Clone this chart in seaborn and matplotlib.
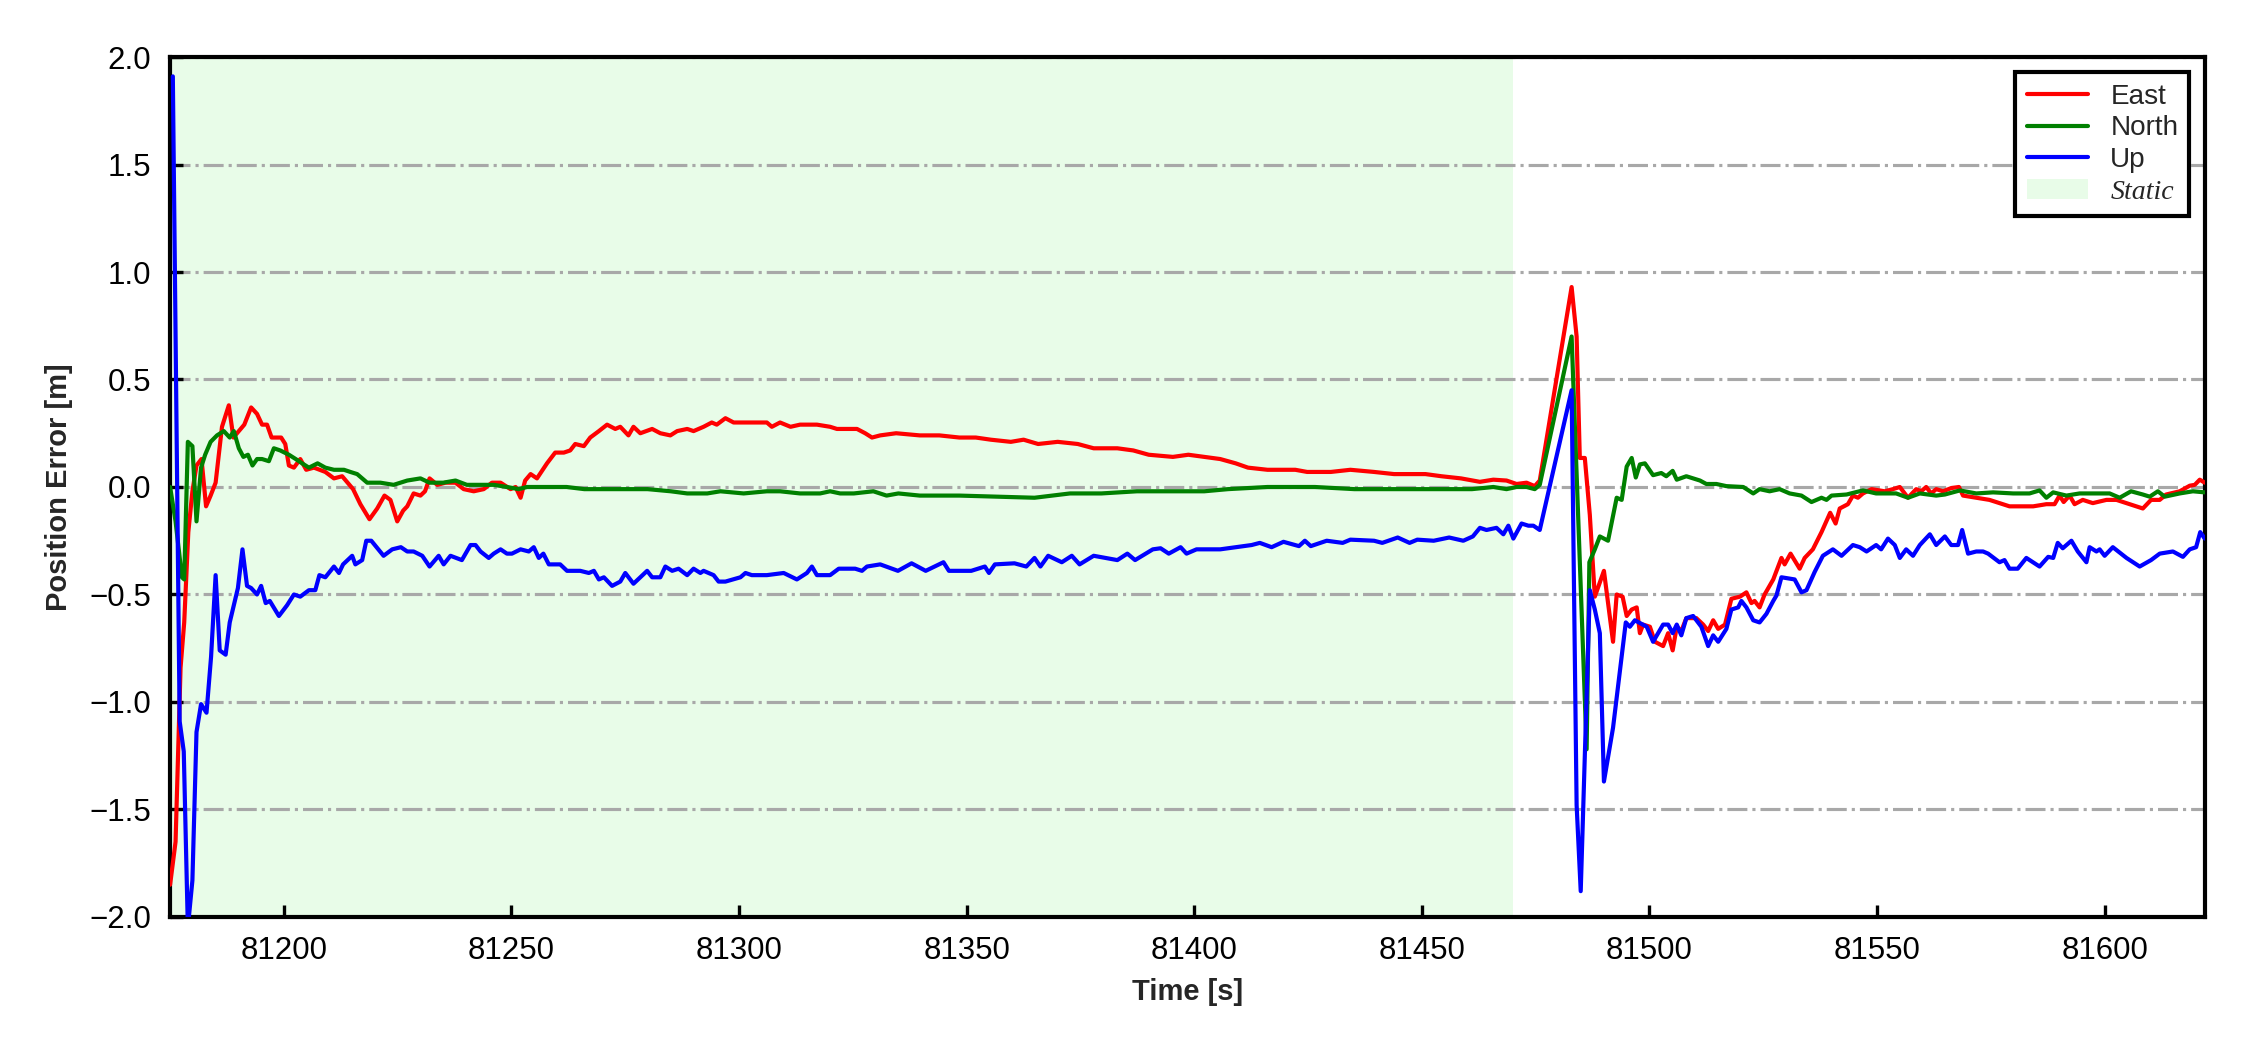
import numpy as np
import pandas as pd
import seaborn as sns
import matplotlib
matplotlib.use("Agg")
import matplotlib.pyplot as plt
from matplotlib.lines import Line2D
from matplotlib.patches import Patch

# ---------------- data ----------------
T0 = 81175.0            # start of the record [s]
T_END = 81622.0         # end of the record [s]
STATIC_END = 81470.0    # end of the static period [s]

# offsets in seconds from T0
east_dt = [0.0, 1.2, 2.3, 3.1, 4.0, 4.9, 5.8, 6.9, 7.9, 8.9, 10.0, 11.4, 12.9, 13.9, 15.1, 16.3, 17.8,
           19.1, 20.2, 21.3, 22.3, 24.4, 25.3, 26.1, 27.2, 28.6, 29.9, 31.6, 34.1, 36.0, 37.8, 40.2,
           41.8, 43.8, 45.5, 47.1, 48.4, 49.9, 51.2, 52.1, 53.5, 55.0, 56.0, 57.0, 58.7, 60.5, 62.7,
           64.5, 66.7, 68.9, 70.7, 72.6, 74.8, 75.9, 77.0, 78.0, 79.2, 80.6, 82.8, 84.6, 86.5, 87.9,
           89.0, 90.9, 92.3, 94.2, 96.0, 97.8, 98.9, 100.7, 101.8, 103.3, 105.9, 107.7, 109.9, 111.4,
           113.6, 115.0, 117.2, 119.0, 120.1, 122.0, 123.8, 127.5, 131.1, 132.2, 134.0, 136.3, 138.4,
           142.1, 145.0, 146.5, 148.7, 150.9, 152.7, 154.2, 156.0, 159.5, 164.7, 169.0, 173.4, 177.0,
           180.3, 184.7, 187.5, 190.7, 195.0, 199.4, 202.9, 208.1, 211.6, 215.0, 220.3, 223.7, 227.2,
           230.7, 234.1, 236.8, 241.1, 247.2, 249.8, 255.0, 259.3, 264.5, 268.9, 272.0, 275.8, 279.3,
           283.6, 287.75, 290.7, 293.6, 295.8, 298.0, 299.8, 300.9, 307.9, 309.0, 309.7, 310.8, 311.9,
           313.0, 315.0, 317.0, 317.8, 319.1, 320.0, 321.1, 322.2, 322.9, 323.6, 325.1, 326.2, 328.0,
           329.1, 330.1, 331.0, 332.0, 333.1, 335.3, 336.8, 337.9, 339.0, 340.1, 341.6, 343.0, 344.9,
           346.3, 347.4, 348.1, 349.2, 350.3, 352.2, 354.0, 354.7, 356.0, 358.0, 359.1, 360.9, 362.8,
           364.7, 365.9, 366.8, 368.6, 369.7, 370.8, 371.9, 373.8, 376.7, 378.5, 380.0, 381.8, 383.6,
           384.7, 385.8, 386.9, 388.0, 389.5, 391.3, 393.0, 393.9, 396.8, 399.7, 401.9, 404.1, 406.3,
           409.3, 412.2, 414.0, 415.1, 416.0, 417.3, 418.4, 420.2, 422.4, 425.4, 427.6, 430.5, 433.4,
           435.2, 437.1, 438.5, 441.5, 443.7, 444.8, 445.9, 447.0]
east_val = [-1.85, -1.65, -0.84, -0.63, -0.21, -0.02, 0.10, 0.13, -0.09, -0.04, 0.02, 0.28, 0.38, 0.23,
            0.26, 0.29, 0.37, 0.34, 0.29, 0.29, 0.23, 0.23, 0.20, 0.10, 0.09, 0.13, 0.08, 0.09, 0.07,
            0.04, 0.05, -0.01, -0.08, -0.15, -0.10, -0.04, -0.06, -0.16, -0.11, -0.09, -0.03, -0.04,
            -0.02, 0.04, 0.01, 0.02, 0.02, -0.01, -0.02, -0.01, 0.02, 0.02, -0.01, 0.00, -0.05, 0.03,
            0.06, 0.04, 0.11, 0.16, 0.16, 0.17, 0.20, 0.19, 0.23, 0.26, 0.29, 0.27, 0.28, 0.24, 0.28,
            0.25, 0.27, 0.25, 0.24, 0.26, 0.27, 0.26, 0.28, 0.30, 0.29, 0.32, 0.30, 0.30, 0.30, 0.28,
            0.30, 0.28, 0.29, 0.29, 0.28, 0.27, 0.27, 0.27, 0.25, 0.23, 0.24, 0.25, 0.24, 0.24, 0.23,
            0.23, 0.22, 0.21, 0.22, 0.20, 0.21, 0.20, 0.18, 0.18, 0.17, 0.15, 0.14, 0.15, 0.14, 0.13,
            0.11, 0.09, 0.08, 0.08, 0.07, 0.07, 0.08, 0.07, 0.06, 0.06, 0.06, 0.05, 0.04, 0.024, 0.034,
            0.03, 0.014, 0.02, 0.004, 0.03, 0.93, 0.70, 0.135, 0.135, -0.13, -0.51, -0.39, -0.72, -0.50,
            -0.51, -0.60, -0.57, -0.56, -0.68, -0.64, -0.65, -0.72, -0.74, -0.68, -0.76, -0.65, -0.67,
            -0.61, -0.61, -0.64, -0.67, -0.62, -0.66, -0.64, -0.52, -0.51, -0.49, -0.54, -0.53, -0.56,
            -0.50, -0.43, -0.33, -0.36, -0.31, -0.38, -0.33, -0.29, -0.21, -0.12, -0.17, -0.10, -0.08,
            -0.04, -0.05, -0.03, -0.01, -0.02, -0.01, 0.00, -0.05, -0.01, -0.02, 0.00, -0.03, -0.01,
            -0.02, -0.005, 0.00, -0.04, -0.05, -0.06, -0.075, -0.09, -0.09, -0.09, -0.08, -0.08, -0.04,
            -0.07, -0.04, -0.08, -0.06, -0.075, -0.06, -0.06, -0.08, -0.10, -0.06, -0.06, -0.035, -0.02,
            0.006, 0.01, 0.034, 0.02]

north_dt = [0.0, 1.2, 2.6, 3.1, 3.9, 4.9, 5.8, 6.8, 7.7, 8.9, 10.3, 11.8, 13.1, 14.0, 15.1, 16.1, 17.1,
            18.1, 19.1, 20.2, 21.7, 22.8, 24.2, 26.1, 27.6, 29.0, 30.5, 32.4, 34.1, 36.0, 38.2, 39.6,
            41.1, 43.3, 46.2, 49.1, 52.1, 55.0, 57.0, 60.0, 62.7, 65.2, 68.2, 71.1, 74.0, 76.6, 78.4,
            82.0, 87.1, 91.0, 93.9, 99.8, 104.9, 110.0, 113.6, 118.0, 120.9, 126.0, 131.1, 134.0, 138.4,
            142.8, 145.0, 147.2, 150.2, 154.5, 157.4, 160.0, 164.7, 173.4, 182.0, 189.9, 197.7, 204.6,
            212.4, 220.3, 227.2, 232.4, 241.1, 248.0, 251.5, 260.2, 268.9, 279.3, 286.0, 290.7, 293.6,
            295.8, 298.0, 299.8, 300.9, 307.9, 311.2, 311.8, 313.0, 314.1, 315.9, 317.8, 318.9, 320.0,
            321.1, 322.0, 322.9, 324.0, 325.8, 327.6, 328.7, 330.1, 331.0, 333.1, 336.1, 337.5, 339.7,
            341.9, 345.6, 347.8, 349.2, 351.4, 353.6, 355.8, 358.4, 360.6, 362.8, 363.9, 365.0, 368.3,
            371.9, 374.8, 379.2, 381.8, 384.4, 388.0, 389.9, 393.2, 396.8, 400.5, 404.9, 408.5, 410.7,
            412.2, 413.7, 416.6, 419.5, 422.4, 426.1, 428.3, 430.8, 433.4, 434.9, 436.7, 438.2, 441.5,
            444.4, 447.0]
north_val = [0.00, -0.16, -0.42, -0.43, 0.21, 0.19, -0.16, 0.09, 0.15, 0.21, 0.24, 0.26, 0.23, 0.26,
             0.18, 0.14, 0.15, 0.10, 0.13, 0.13, 0.12, 0.18, 0.17, 0.15, 0.13, 0.11, 0.09, 0.11, 0.09,
             0.08, 0.08, 0.07, 0.06, 0.02, 0.02, 0.01, 0.03, 0.04, 0.02, 0.02, 0.03, 0.01, 0.01, 0.01,
             0.00, -0.01, 0.00, 0.00, 0.00, -0.01, -0.01, -0.01, -0.01, -0.02, -0.03, -0.03, -0.02,
             -0.03, -0.02, -0.02, -0.03, -0.03, -0.02, -0.03, -0.03, -0.02, -0.04, -0.03, -0.04, -0.04,
             -0.045, -0.05, -0.03, -0.03, -0.02, -0.02, -0.02, -0.01, 0.00, 0.00, 0.00, -0.01, -0.01,
             -0.01, -0.01, 0.00, -0.01, 0.00, 0.00, -0.01, 0.01, 0.70, -1.22, -0.35, -0.29, -0.23,
             -0.25, -0.05, -0.06, 0.095, 0.135, 0.044, 0.105, 0.11, 0.055, 0.065, 0.05, 0.075, 0.034,
             0.05, 0.03, 0.014, 0.014, 0.004, 0.00, -0.03, -0.01, -0.02, -0.01, -0.03, -0.04, -0.07,
             -0.05, -0.06, -0.04, -0.035, -0.016, -0.03, -0.03, -0.05, -0.03, -0.04, -0.035, -0.016,
             -0.03, -0.025, -0.03, -0.03, -0.016, -0.05, -0.025, -0.04, -0.03, -0.03, -0.03, -0.05,
             -0.02, -0.035, -0.045, -0.02, -0.045, -0.03, -0.02, -0.025]

up_dt = [0.6, 2.1, 3.0, 3.9, 4.9, 5.8, 6.8, 8.0, 9.0, 10.0, 10.9, 12.2, 13.1, 14.9, 15.9, 16.9, 17.8,
         19.1, 20.0, 21.0, 21.9, 23.9, 25.7, 27.2, 28.6, 30.5, 31.9, 32.8, 34.1, 36.0, 37.1, 38.0, 40.0,
         40.7, 42.2, 43.1, 44.2, 46.9, 48.8, 50.7, 52.1, 53.5, 55.4, 57.0, 59.0, 60.1, 61.6, 64.1, 66.0,
         67.1, 68.2, 70.0, 71.1, 72.6, 74.0, 75.1, 77.0, 78.8, 79.9, 81.0, 82.0, 83.2, 85.7, 87.2, 90.1,
         92.0, 93.1, 94.2, 95.3, 97.1, 98.9, 100.0, 101.8, 103.3, 104.8, 105.9, 107.7, 108.8, 110.3,
         111.7, 113.6, 115.0, 116.5, 117.2, 119.4, 120.5, 122.0, 125.3, 126.4, 127.8, 131.1, 134.8,
         137.7, 139.9, 141.0, 142.1, 145.0, 146.9, 148.7, 150.5, 152.0, 153.1, 156.0, 159.9, 162.9,
         166.0, 169.9, 171.1, 176.0, 179.0, 179.9, 181.2, 185.5, 188.1, 189.9, 191.2, 192.9, 195.9,
         198.1, 199.8, 202.9, 208.1, 210.3, 212.0, 215.9, 217.6, 219.4, 222.0, 223.3, 225.5, 230.7,
         234.1, 237.6, 239.4, 242.0, 244.6, 248.0, 249.3, 250.6, 254.1, 257.6, 259.3, 264.5, 266.3,
         269.7, 272.3, 274.0, 277.6, 281.0, 284.1, 286.2, 287.75, 289.2, 291.4, 292.9, 294.0, 295.1,
         296.9, 298.4, 299.5, 300.9, 307.9, 309.0, 309.9, 311.9, 313.0, 314.1, 315.0, 317.0, 319.8,
         320.7, 321.8, 324.4, 325.8, 328.0, 329.1, 330.1, 331.0, 332.0, 333.1, 334.6, 336.4, 337.9,
         339.0, 340.1, 341.9, 343.0, 344.5, 345.2, 346.3, 347.8, 349.2, 350.7, 352.2, 352.9, 354.0,
         356.9, 358.4, 359.5, 361.3, 363.1, 365.3, 367.2, 369.7, 371.2, 372.7, 374.8, 375.9, 377.4,
         378.9, 380.0, 381.4, 382.9, 384.4, 386.6, 388.0, 389.9, 391.3, 392.8, 393.7, 395.0, 396.8,
         398.3, 399.4, 401.9, 403.0, 404.1, 405.9, 407.8, 410.7, 412.6, 413.7, 414.7, 415.8, 417.7,
         419.1, 421.0, 421.7, 423.2, 423.9, 425.0, 426.8, 429.8, 432.7, 435.2, 437.1, 440.0, 442.2,
         443.7, 445.1, 446.0, 447.0]
up_val = [1.91, -1.09, -1.23, -2.05, -1.83, -1.14, -1.01, -1.05, -0.79, -0.41, -0.76, -0.78, -0.63,
          -0.47, -0.29, -0.46, -0.47, -0.50, -0.46, -0.54, -0.53, -0.60, -0.55, -0.50, -0.51, -0.48,
          -0.48, -0.41, -0.42, -0.37, -0.40, -0.36, -0.32, -0.36, -0.34, -0.25, -0.25, -0.32, -0.29,
          -0.28, -0.30, -0.30, -0.32, -0.37, -0.32, -0.36, -0.32, -0.34, -0.27, -0.27, -0.30, -0.33,
          -0.31, -0.29, -0.31, -0.31, -0.29, -0.30, -0.28, -0.33, -0.31, -0.36, -0.36, -0.39, -0.39,
          -0.40, -0.39, -0.43, -0.42, -0.46, -0.44, -0.40, -0.45, -0.42, -0.39, -0.42, -0.42, -0.37,
          -0.39, -0.38, -0.41, -0.38, -0.40, -0.39, -0.41, -0.44, -0.44, -0.42, -0.40, -0.41, -0.41,
          -0.40, -0.43, -0.40, -0.37, -0.41, -0.41, -0.38, -0.38, -0.38, -0.39, -0.37, -0.36, -0.39,
          -0.355, -0.39, -0.35, -0.39, -0.39, -0.37, -0.40, -0.36, -0.355, -0.37, -0.33, -0.37, -0.32,
          -0.35, -0.32, -0.36, -0.32, -0.34, -0.31, -0.34, -0.29, -0.285, -0.31, -0.28, -0.31, -0.29,
          -0.29, -0.28, -0.27, -0.26, -0.28, -0.255, -0.275, -0.25, -0.275, -0.25, -0.26, -0.245,
          -0.25, -0.26, -0.235, -0.26, -0.245, -0.25, -0.235, -0.25, -0.23, -0.19, -0.20, -0.19, -0.22,
          -0.18, -0.24, -0.17, -0.18, -0.18, -0.20, 0.45, -1.48, -1.88, -0.48, -0.57, -0.68, -1.37,
          -1.12, -0.63, -0.65, -0.62, -0.65, -0.72, -0.64, -0.64, -0.68, -0.64, -0.69, -0.61, -0.60,
          -0.65, -0.74, -0.69, -0.72, -0.66, -0.57, -0.56, -0.53, -0.56, -0.62, -0.63, -0.59, -0.53,
          -0.505, -0.42, -0.43, -0.49, -0.48, -0.395, -0.32, -0.29, -0.32, -0.27, -0.28, -0.30, -0.27,
          -0.29, -0.24, -0.27, -0.33, -0.29, -0.32, -0.27, -0.22, -0.27, -0.23, -0.27, -0.27, -0.20,
          -0.31, -0.30, -0.30, -0.31, -0.35, -0.34, -0.38, -0.38, -0.33, -0.37, -0.325, -0.33, -0.26,
          -0.285, -0.25, -0.30, -0.35, -0.28, -0.30, -0.29, -0.32, -0.28, -0.33, -0.37, -0.34, -0.31,
          -0.30, -0.325, -0.29, -0.28, -0.21, -0.24]

series_names = ["East", "North", "Up"]
series_colors = ["red", "green", "blue"]
static_label = "Static"
static_color = "#e8fce8"

x_ticks = [81200, 81250, 81300, 81350, 81400, 81450, 81500, 81550, 81600]
y_ticks = [-2.0, -1.5, -1.0, -0.5, 0.0, 0.5, 1.0, 1.5, 2.0]
x_label = "Time [s]"
y_label = "Position Error [m]"

# ---------------- build long table ----------------
frames = []
for name, dts, vals in zip(series_names, [east_dt, north_dt, up_dt], [east_val, north_val, up_val]):
    frames.append(pd.DataFrame({"t": T0 + np.asarray(dts, float),
                                "v": np.asarray(vals, float),
                                "series": name}))
df = pd.concat(frames, ignore_index=True)

# ---------------- plot ----------------
sns.set_theme(style="white")
plt.rcParams["font.family"] = ["Liberation Sans", "DejaVu Sans"]
plt.rcParams["axes.unicode_minus"] = True

fig = plt.figure(figsize=(7.5, 3.5), dpi=300)
ax = fig.add_axes([0.0756, 0.1267, 0.9043, 0.8190])

ax.axvspan(T0, STATIC_END, color=static_color, lw=0, zorder=0)

sns.lineplot(data=df, x="t", y="v", hue="series", hue_order=series_names,
             palette=dict(zip(series_names, series_colors)),
             estimator=None, sort=False, linewidth=1.0, legend=False, ax=ax, zorder=3)

ax.set_xlim(T0, T_END)
ax.set_ylim(-2.0, 2.0)
ax.set_xticks(x_ticks)
ax.set_yticks(y_ticks)
ax.set_yticklabels([f"{v:.1f}".replace("-", "\u2212") for v in y_ticks])

ax.yaxis.grid(True, linestyle="-.", color="#a8a8a8", linewidth=0.75, zorder=1)
ax.xaxis.grid(False)
ax.set_axisbelow(True)

ax.tick_params(axis="both", direction="in", length=3, width=0.8, labelsize=7.5,
               colors="black", pad=4.5, left=True, bottom=True, top=False, right=False)
for sp in ax.spines.values():
    sp.set_visible(True)
    sp.set_color("black")
    sp.set_linewidth(1.0)

ax.set_xlabel(x_label, fontsize=7, fontweight="bold", labelpad=3)
ax.set_ylabel(y_label, fontsize=7, fontweight="bold", labelpad=4)

handles = [Line2D([0], [0], color=c, lw=1.0) for c in series_colors]
handles.append(Patch(facecolor=static_color, edgecolor="none"))
leg = ax.legend(handles, series_names + [static_label], loc="upper right",
                fontsize=6.7, frameon=True, fancybox=False, framealpha=1,
                edgecolor="black", labelspacing=0.21, handlelength=2.2,
                handletextpad=0.8, borderpad=0.4, borderaxespad=0.55)
leg.get_frame().set_linewidth(1.0)
st = leg.get_texts()[3]
st.set_fontfamily(["Liberation Serif", "DejaVu Serif"])
st.set_fontstyle("italic")

fig.savefig("out.png", dpi=300, facecolor="white")
